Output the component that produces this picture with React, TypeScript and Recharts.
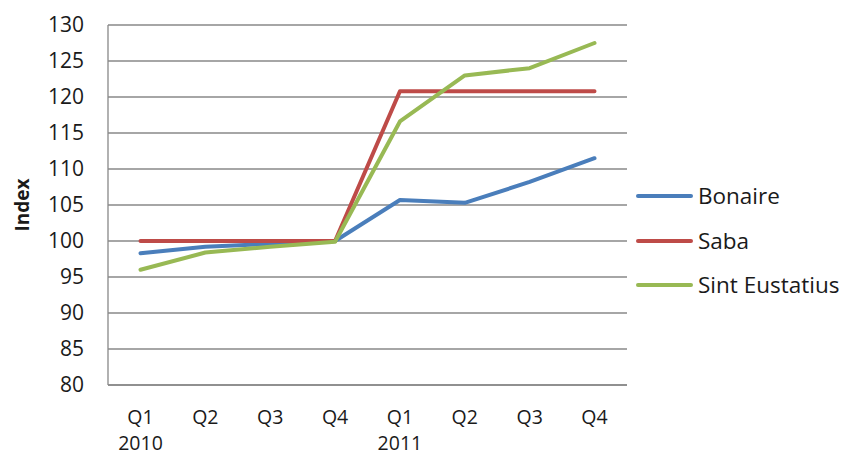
import React from 'react';
import { LineChart, Line, XAxis, YAxis, CartesianGrid, Legend } from 'recharts';

const quarters = ['Q1', 'Q2', 'Q3', 'Q4', 'Q1', 'Q2', 'Q3', 'Q4'];
const years = ['2010', '', '', '', '2011', '', '', ''];
const bonaire = [98.3, 99.2, 99.6, 100, 105.7, 105.3, 108.2, 111.5];
const saba = [100, 100, 100, 100, 120.8, 120.8, 120.8, 120.8];
const sintEustatius = [96.0, 98.4, 99.2, 99.9, 116.6, 123.0, 124.0, 127.5];
const yTicks = [80, 85, 90, 95, 100, 105, 110, 115, 120, 125, 130];

const seriesNames = ['Bonaire', 'Saba', 'Sint Eustatius'];
const seriesColors = ['#4A7EBB', '#BE4B48', '#98B954'];

const data = quarters.map((q, i) => ({
  key: `${q}-${i}`,
  quarter: q,
  year: years[i],
  Bonaire: bonaire[i],
  Saba: saba[i],
  'Sint Eustatius': sintEustatius[i],
}));

const FONT = '"Open Sans", "Liberation Sans", sans-serif';
const TEXT = '#1a1a1a';

const XTick = (props: any) => {
  const { x, y, index } = props;
  const d = data[index];
  if (!d) return null;
  return (
    <g>
      <text x={x} y={y + 39} textAnchor="middle" fontSize={19.5} fontFamily={FONT} fill={TEXT}>
        {d.quarter}
      </text>
      {d.year ? (
        <text x={x} y={y + 65} textAnchor="middle" fontSize={19.5} fontFamily={FONT} fill={TEXT}>
          {d.year}
        </text>
      ) : null}
    </g>
  );
};

const YLabel = () => {
  const cx = 22;
  const cy = 205;
  return (
    <text
      x={cx}
      y={cy}
      transform={`rotate(-90, ${cx}, ${cy})`}
      textAnchor="middle"
      dominantBaseline="central"
      fontSize={19}
      fontWeight="bold"
      fontFamily={FONT}
      fill={TEXT}
    >
      Index
    </text>
  );
};

const LegendContent = (props: any) => {
  const payload = props.payload || [];
  return (
    <div style={{ fontFamily: FONT, fontSize: 22.5, color: TEXT }}>
      {payload.map((p: any) => (
        <div key={p.value} style={{ display: 'flex', alignItems: 'center', height: 44.5 }}>
          <svg width={60} height={10} style={{ display: 'block' }}>
            <line x1={2} y1={5} x2={55} y2={5} stroke={p.color} strokeWidth={4} strokeLinecap="round" />
          </svg>
          <span style={{ marginLeft: 2, lineHeight: '30px', whiteSpace: 'nowrap' }}>{p.value}</span>
        </div>
      ))}
    </div>
  );
};

export default function App() {
  return (
    <div style={{ position: 'absolute', left: 0, top: 0, width: 845, height: 455, background: '#fff' }}>
      <LineChart width={845} height={455} data={data} margin={{ top: 25, right: 218, bottom: 0, left: 0 }}>
        <CartesianGrid vertical={false} stroke="#888888" strokeWidth={1.3} />
        <XAxis
          dataKey="key"
          height={70}
          padding={{ left: 32.5, right: 32.5 }}
          axisLine={{ stroke: '#888888', strokeWidth: 1.3 }}
          tickLine={false}
          tickSize={0}
          tickMargin={0}
          interval={0}
          tick={<XTick />}
        />
        <YAxis
          width={108}
          domain={[80, 130]}
          ticks={yTicks}
          interval={0}
          axisLine={{ stroke: '#888888', strokeWidth: 1.3 }}
          tickLine={false}
          tickSize={0}
          tickMargin={24}
          tick={{ fontSize: 21, fontFamily: FONT, fill: TEXT }}
          label={<YLabel />}
        />
        <Legend
          layout="vertical"
          align="center"
          verticalAlign="middle"
          content={<LegendContent />}
          wrapperStyle={{ position: 'absolute', left: 636, top: 174, width: 209 }}
        />
        {seriesNames.map((name, i) => (
          <Line
            key={name}
            type="linear"
            dataKey={name}
            name={name}
            stroke={seriesColors[i]}
            strokeWidth={4}
            strokeLinecap="round"
            strokeLinejoin="round"
            dot={false}
            activeDot={false}
            isAnimationActive={false}
          />
        ))}
      </LineChart>
    </div>
  );
}
